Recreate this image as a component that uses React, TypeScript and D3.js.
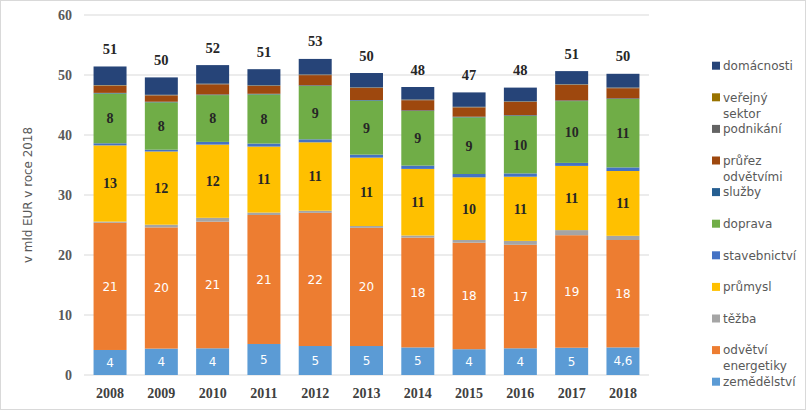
import React from 'react';
import * as d3 from 'd3';

const years = ['2008','2009','2010','2011','2012','2013','2014','2015','2016','2017','2018'];

const zemedelstvi = [4.17, 4.4, 4.45, 5.17, 4.83, 4.83, 4.6, 4.3, 4.45, 4.55, 4.6];
const energetiky = [21.2, 20.2, 21.1, 21.5, 22.2, 19.7, 18.3, 17.75, 17.25, 18.75, 17.9];
const tezba = [0.2, 0.45, 0.65, 0.4, 0.35, 0.3, 0.35, 0.45, 0.65, 0.85, 0.7];
const prumysl = [12.7, 12.2, 12.2, 11.0, 11.4, 11.4, 11.1, 10.45, 10.7, 10.7, 10.8];
const stavebnictvi = [0.35, 0.3, 0.45, 0.5, 0.5, 0.5, 0.55, 0.55, 0.55, 0.5, 0.6];
const doprava = [8.3, 7.9, 7.8, 8.2, 8.9, 9.0, 9.1, 9.45, 9.6, 10.3, 11.4];
const sluzby = [0.1, 0.1, 0.1, 0.1, 0.1, 0.1, 0.1, 0.1, 0.1, 0.1, 0.1];
const prurez = [1.2, 1.05, 1.7, 1.3, 1.7, 2.0, 1.7, 1.55, 2.2, 2.6, 1.7];
const podnikani = [0.05, 0.05, 0.05, 0.05, 0.05, 0.05, 0.05, 0.05, 0.05, 0.05, 0.05];
const verejny = [0.05, 0.05, 0.05, 0.05, 0.05, 0.05, 0.05, 0.05, 0.05, 0.05, 0.05];
const domacnosti = [3.1, 2.9, 3.1, 2.7, 2.6, 2.4, 2.1, 2.4, 2.3, 2.2, 2.3];

const zemLabels = ['4','4','4','5','5','5','5','4','4','5','4,6'];
const energetikyLabels = ['21','20','21','21','22','20','18','18','17','19','18'];
const prumyslLabels = ['13','12','12','11','11','11','11','10','11','11','11'];
const dopravaLabels = ['8','8','8','8','9','9','9','9','10','10','11'];
const totalLabels = ['51','50','52','51','53','50','48','47','48','51','50'];

const yTicks = [0, 10, 20, 30, 40, 50, 60];

const series = [
  { name: 'zemědělství', values: zemedelstvi, color: '#5B9BD5', labels: zemLabels, light: true },
  { name: 'odvětví energetiky', values: energetiky, color: '#ED7D31', labels: energetikyLabels, light: true },
  { name: 'těžba', values: tezba, color: '#A5A5A5' },
  { name: 'průmysl', values: prumysl, color: '#FFC000', labels: prumyslLabels },
  { name: 'stavebnictví', values: stavebnictvi, color: '#4472C4' },
  { name: 'doprava', values: doprava, color: '#70AD47', labels: dopravaLabels },
  { name: 'služby', values: sluzby, color: '#255E91' },
  { name: 'průřez odvětvími', values: prurez, color: '#9E480E' },
  { name: 'podnikání', values: podnikani, color: '#636363' },
  { name: 'veřejný sektor', values: verejny, color: '#997300' },
  { name: 'domácnosti', values: domacnosti, color: '#264478' },
] as { name: string; values: number[]; color: string; labels?: string[]; light?: boolean }[];

const legendLines: Record<string, string[]> = {
  'veřejný sektor': ['veřejný', 'sektor'],
  'průřez odvětvími': ['průřez', 'odvětvími'],
  'odvětví energetiky': ['odvětví', 'energetiky'],
};

export default function App() {
  const W = 807, H = 411;
  const x = d3.scaleBand<string>().domain(years).range([84.4, 648.6]).paddingInner(0.357).paddingOuter(0.1785);
  const y = d3.scaleLinear().domain([0, 60]).range([375, 15]);

  const table = years.map((yr, i) => {
    const row: Record<string, number | string> = { year: yr };
    series.forEach(s => { row[s.name] = s.values[i]; });
    return row;
  });
  const stack = d3.stack<Record<string, number | string>>().keys(series.map(s => s.name))(table as any);
  const totals = years.map((_, i) => d3.sum(series, s => s.values[i]));

  const legendItems = [...series].reverse();
  const sans = '"DejaVu Sans", sans-serif';
  const serif = '"Liberation Serif", serif';

  return (
    <svg width={W} height={H} style={{ position: 'absolute', left: 0, top: 0, background: '#fff' }}>
      <rect x={0.5} y={0.5} width={W - 2} height={H - 2} fill="#fff" stroke="#d9d9d9" />
      {yTicks.map(t => (
        <g key={t}>
          <line x1={84} x2={649} y1={y(t)} y2={y(t)} stroke="#d9d9d9" strokeWidth={1} />
          <text x={72} y={y(t)} dy="0.35em" textAnchor="end" fontFamily={serif} fontWeight="bold" fontSize={14} fill="#595959">{t}</text>
        </g>
      ))}
      {stack.map((layer, si) => (
        <g key={si} fill={series[si].color}>
          {layer.map((d, i) => (
            <rect key={i} x={x(years[i])} width={x.bandwidth()} y={y(d[1])} height={Math.max(0, y(d[0]) - y(d[1]))} />
          ))}
        </g>
      ))}
      {stack.map((layer, si) => {
        const s = series[si];
        if (!s.labels) return null;
        return (
          <g key={'l' + si}>
            {layer.map((d, i) => (
              <text key={i} x={(x(years[i]) as number) + x.bandwidth() / 2} y={y((d[0] + d[1]) / 2)} dy="0.35em"
                textAnchor="middle"
                fontFamily={s.light ? sans : serif}
                fontWeight={s.light ? 'normal' : 'bold'}
                fontSize={s.light ? 12 : 14}
                fill={s.light ? '#ffffff' : '#262626'}>{s.labels![i]}</text>
            ))}
          </g>
        );
      })}
      {years.map((yr, i) => (
        <text key={'t' + i} x={(x(yr) as number) + x.bandwidth() / 2} y={y(totals[i]) - 17.5} dy="0.35em" textAnchor="middle"
          fontFamily={serif} fontWeight="bold" fontSize={14.5} fill="#262626">{totalLabels[i]}</text>
      ))}
      {years.map((yr, i) => (
        <text key={'x' + i} x={(x(yr) as number) + x.bandwidth() / 2} y={393} dy="0.35em" textAnchor="middle"
          fontFamily={serif} fontWeight="bold" fontSize={14} fill="#404040">{yr}</text>
      ))}
      <text transform="translate(27,195) rotate(-90)" textAnchor="middle" dy="0.35em" fontFamily={sans} fontSize={13}
        fill="#595959" textLength={136} lengthAdjust="spacingAndGlyphs">v mld EUR v roce 2018</text>
      {legendItems.map((s, i) => {
        const cy = 65.7 + i * 31.6;
        const lines = legendLines[s.name] || [s.name];
        return (
          <g key={'lg' + i}>
            <rect x={712} y={cy - 4} width={8} height={8} fill={s.color} />
            {lines.map((ln, j) => (
              <text key={j} x={723} y={cy + j * 16} dy="0.35em" fontFamily={sans} fontSize={12} fill="#595959">{ln}</text>
            ))}
          </g>
        );
      })}
    </svg>
  );
}
